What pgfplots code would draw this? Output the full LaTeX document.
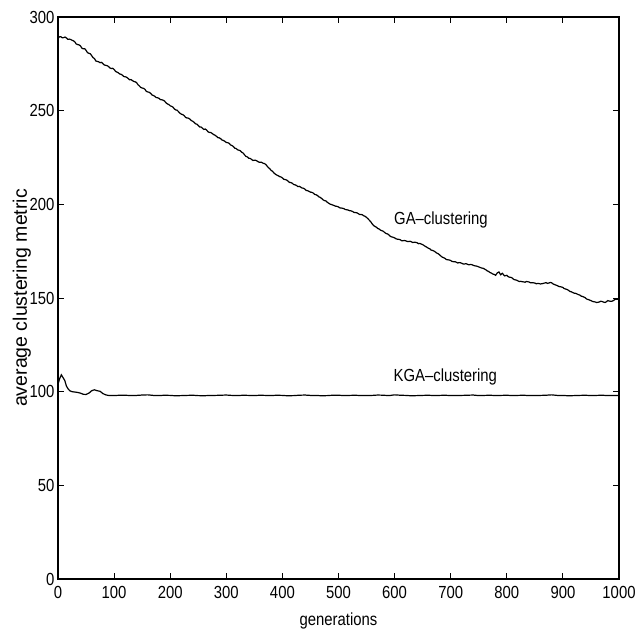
\documentclass[border=0pt]{standalone}
\usepackage{fontspec}
\setmainfont{Liberation Sans}[FakeStretch=0.85]
\newfontfamily\labelfont{Liberation Sans}
\usepackage{pgfplots}
\pgfplotsset{compat=1.18}

\begin{document}
\begin{tikzpicture}
    \begin{axis}[
        name = ax,
        scale only axis,
        width  = 561pt,
        height = 562pt,
        xmin = 0, xmax = 1000,
        ymin = 0, ymax = 300,
        xtick = {0,100,...,1000},
        ytick = {0,50,...,300},
        tick align = inside,
        major tick length = 6pt,
        tick style = {line width=0.9pt, black},
        axis line style = {line width=1.2pt},
        ticklabel style = {font=\fontsize{17.5}{17.5}\selectfont},
        /pgf/number format/assume math mode=true,
        /pgf/number format/1000 sep={},
        xticklabel style = {yshift=-4pt},
        xlabel = {generations},
        xlabel style = {font=\fontsize{17.5}{17.5}\selectfont, at={(axis description cs:0.5,0)}, anchor=north, yshift=-30pt},
        ylabel = {average clustering metric},
        ylabel style = {font=\labelfont\fontsize{19.5}{19.5}\selectfont, at={(axis description cs:-0.0553,0.5)}, anchor=base},
    ]

        % GA-clustering
        \addplot[black, line width=1.2pt] coordinates {
            (0,288.5) (2.5,289.4) (5,289.5) (7.5,288.9) (10,289.0) (12.5,289.3) (15,288.8) (17.5,288.1)
            (20,288.2) (22.5,288.0) (25,287.6) (27.5,287.3) (30,286.7) (32.5,285.6) (35,285.3) (37.5,285.1)
            (40,284.6) (42.5,283.4) (45,283.0) (47.5,283.1) (50,282.2) (52.5,281.0) (55,280.6) (57.5,280.4)
            (60,279.4) (62.5,278.3) (65,277.8) (67.5,276.5) (70,276.3) (72.5,276.1) (75,275.6) (77.5,275.8)
            (80,275.1) (82.5,274.4) (85,274.2) (87.5,274.0) (90,273.6) (92.5,272.8) (95,272.5) (97.5,272.6)
            (100,272.0) (102.5,271.0) (105,270.6) (107.5,270.2) (110,269.6) (112.5,269.4) (115,268.9) (117.5,268.2)
            (120,268.1) (122.5,267.8) (125,267.2) (127.5,266.5) (130,266.6) (132.5,266.1) (135,265.6) (137.5,265.4)
            (140,265.0) (142.5,263.9) (145,263.2) (147.5,262.4) (150,262.1) (152.5,261.9) (155,261.4) (157.5,260.3)
            (160,260.0) (162.5,259.8) (165,259.3) (167.5,258.4) (170,258.1) (172.5,257.7) (175,257.0) (177.5,256.9)
            (180,256.6) (182.5,255.9) (185,255.8) (187.5,255.6) (190,255.1) (192.5,254.2) (195,253.6) (197.5,253.3)
            (200,252.6) (202.5,252.3) (205,251.9) (207.5,250.9) (210,250.4) (212.5,250.2) (215,249.4) (217.5,248.6)
            (220,248.1) (222.5,247.9) (225,247.3) (227.5,246.4) (230,246.1) (232.5,246.0) (235,245.5) (237.5,244.7)
            (240,244.4) (242.5,243.8) (245,243.0) (247.5,242.8) (250,242.1) (252.5,241.3) (255,241.3) (257.5,240.6)
            (260,240.0) (262.5,240.2) (265,239.6) (267.5,238.7) (270,238.4) (272.5,238.3) (275,237.8) (277.5,237.2)
            (280,236.9) (282.5,236.3) (285,235.6) (287.5,235.5) (290,235.0) (292.5,234.3) (295,234.1) (297.5,233.6)
            (300,233.0) (302.5,232.9) (305,232.6) (307.5,231.7) (310,231.4) (312.5,230.9) (315,230.0) (317.5,229.8)
            (320,229.1) (322.5,228.9) (325,228.6) (327.5,227.8) (330,227.4) (332.5,226.4) (335,225.6) (337.5,225.3)
            (340,224.6) (342.5,224.5) (345,224.0) (347.5,223.4) (350,223.6) (352.5,223.5) (355,223.1) (357.5,222.6)
            (360,222.4) (362.5,222.5) (365,222.0) (367.5,221.8) (370,221.4) (372.5,220.5) (375,219.6) (377.5,219.0)
            (380,218.1) (382.5,217.6) (385,216.7) (387.5,216.1) (390,215.6) (392.5,215.3) (395,214.8) (397.5,214.6)
            (400,214.1) (402.5,213.4) (405,213.2) (407.5,213.0) (410,212.4) (412.5,211.7) (415,211.6) (417.5,211.3)
            (420,210.6) (422.5,210.4) (425,210.1) (427.5,209.5) (430,209.6) (432.5,209.2) (435,208.7) (437.5,208.6)
            (440,208.1) (442.5,207.4) (445,207.3) (447.5,206.9) (450,206.5) (452.5,206.4) (455,206.0) (457.5,205.3)
            (460,205.1) (462.5,204.7) (465,204.0) (467.5,203.7) (470,203.1) (472.5,202.4) (475,202.0) (477.5,201.8)
            (480,201.1) (482.5,200.6) (485,200.1) (487.5,199.9) (490,199.6) (492.5,199.3) (495,199.0) (497.5,198.9)
            (500,198.6) (502.5,198.1) (505,198.0) (507.5,197.9) (510,197.6) (512.5,197.2) (515,197.1) (517.5,196.9)
            (520,196.6) (522.5,196.5) (525,196.2) (527.5,195.7) (530,195.6) (532.5,195.5) (535,195.1) (537.5,194.6)
            (540,194.6) (542.5,194.4) (545,193.9) (547.5,193.6) (550,193.0) (552.5,192.3) (555,191.5) (557.5,190.7)
            (560,189.6) (562.5,188.7) (565,188.2) (567.5,187.8) (570,187.1) (572.5,186.8) (575,186.2) (577.5,185.9)
            (580,185.6) (582.5,184.9) (585,184.4) (587.5,184.2) (590,183.6) (592.5,182.9) (595,182.6) (597.5,182.4)
            (600,182.1) (602.5,181.6) (605,181.4) (607.5,181.3) (610,181.1) (612.5,180.6) (615,180.6) (617.5,180.7)
            (620,180.5) (622.5,180.2) (625,180.1) (627.5,180.3) (630,180.0) (632.5,179.6) (635,179.8) (637.5,179.7)
            (640,179.5) (642.5,179.0) (645,179.1) (647.5,178.8) (650,178.5) (652.5,178.0) (655,177.5) (657.5,177.1)
            (660,176.6) (662.5,176.3) (665,175.6) (667.5,175.4) (670,175.1) (672.5,174.6) (675,174.0) (677.5,173.7)
            (680,173.1) (682.5,172.4) (685,171.8) (687.5,171.5) (690,171.1) (692.5,170.5) (695,170.4) (697.5,170.3)
            (700,170.0) (702.5,169.5) (705,169.4) (707.5,169.4) (710,169.1) (712.5,168.7) (715,168.9) (717.5,168.8)
            (720,168.5) (722.5,168.1) (725,168.2) (727.5,168.3) (730,168.0) (732.5,167.7) (735,167.9) (737.5,167.8)
            (740,167.5) (742.5,167.2) (745,167.1) (747.5,166.9) (750,166.6) (752.5,166.3) (755,166.0) (757.5,165.9)
            (760,165.5) (762.5,165.1) (765,164.5) (767.5,164.2) (770,163.6) (772.5,163.3) (775,162.8) (777.5,162.6)
            (780,162.1) (783,163.4) (786,163.9) (789,162.4) (792,163.2) (796,161.8) (800,162.1) (802.5,161.4)
            (805,161.1) (807.5,161.0) (810,160.6) (812.5,159.9) (815,159.7) (817.5,159.5) (820,159.1) (822.5,158.8)
            (825,158.9) (827.5,158.7) (830,158.6) (832.5,158.4) (835,158.8) (837.5,158.7) (840,158.5) (842.5,158.1)
            (845,158.2) (847.5,158.1) (850,158.0) (852.5,157.6) (855,157.8) (857.5,157.7) (860,157.5) (862.5,157.6)
            (865,157.8) (867.5,158.0) (870,158.2) (872.5,157.8) (875,158.0) (877.5,158.3) (880,158.1) (882.5,157.5)
            (885,157.2) (887.5,156.9) (890,156.6) (892.5,156.2) (895,156.0) (897.5,155.9) (900,155.6) (902.5,155.0)
            (905,154.8) (907.5,154.5) (910,154.1) (912.5,153.5) (915,153.3) (917.5,152.9) (920,152.6) (922.5,152.5)
            (925,152.2) (927.5,151.8) (930,151.6) (932.5,151.0) (935,150.8) (937.5,150.5) (940,150.1) (942.5,149.4)
            (945,149.2) (947.5,148.9) (950,148.6) (952.5,148.2) (955,148.0) (957.5,147.9) (960,147.6) (962.5,147.7)
            (965,147.9) (967.5,148.3) (970,148.1) (972.5,147.8) (975,147.6) (977.5,148.0) (980,148.6) (982.5,148.4)
            (985,148.2) (987.5,148.3) (990,148.6) (992.5,149.2) (995,149.4) (997.5,149.3) (1000,150.0)
        };

        % KGA-clustering
        \addplot[black, line width=1.2pt] coordinates {
            (0,104.0) (3,107.0) (6,109.0) (9,107.5) (12,106.0) (15,103.0) (18,101.5) (21,100.5)
            (25,100.0) (30,99.8) (35,99.6) (40,99.2) (45,98.6) (50,98.5) (55,99.2) (60,100.5)
            (65,101.0) (70,100.5) (75,100.2) (80,99.0) (85,98.3) (90,98.0) (100,97.9) (110,98.1)
            (120,98.1) (130,97.9) (140,98.0) (150,98.2) (160,98.3) (170,98.0) (180,97.9) (190,98.1)
            (200,98.0) (210,97.8) (220,97.9) (230,98.0) (240,98.1) (250,97.9) (260,97.8) (270,98.0)
            (280,98.0) (290,98.1) (300,98.2) (310,98.0) (320,97.9) (330,98.1) (340,98.0) (350,97.9)
            (360,98.1) (370,98.0) (380,97.9) (390,98.1) (400,98.0) (410,97.8) (420,97.9) (430,98.1)
            (440,98.2) (450,98.0) (460,98.0) (470,97.8) (480,97.9) (490,98.1) (500,98.1) (510,97.9)
            (520,98.0) (530,98.1) (540,97.9) (550,98.0) (560,98.0) (570,98.2) (580,98.1) (590,97.9)
            (600,98.3) (610,98.1) (620,98.0) (630,97.8) (640,97.9) (650,98.0) (660,98.1) (670,97.9)
            (680,98.0) (690,98.1) (700,97.9) (710,98.0) (720,98.0) (730,98.1) (740,98.2) (750,97.9)
            (760,98.0) (770,98.1) (780,97.9) (790,98.0) (800,98.1) (810,97.9) (820,98.0) (830,98.1)
            (840,97.9) (850,98.0) (860,98.0) (870,98.1) (880,98.3) (890,98.0) (900,98.0) (910,97.8)
            (920,97.9) (930,98.0) (940,98.1) (950,97.9) (960,98.0) (970,98.1) (980,97.9) (990,98.0)
            (1000,98.0)
        };

        \node[anchor=west, font=\fontsize{17.5}{17.5}\selectfont] at (axis cs:593,191.7) {GA--clustering};
        \node[anchor=west, font=\fontsize{17.5}{17.5}\selectfont] at (axis cs:592,108) {KGA--clustering};
    \end{axis}
    \pgfresetboundingbox
    \path[use as bounding box] ([shift={(-58pt,-50pt)}]ax.south west) rectangle ([shift={(17pt,17pt)}]ax.north east);
\end{tikzpicture}
\end{document}
